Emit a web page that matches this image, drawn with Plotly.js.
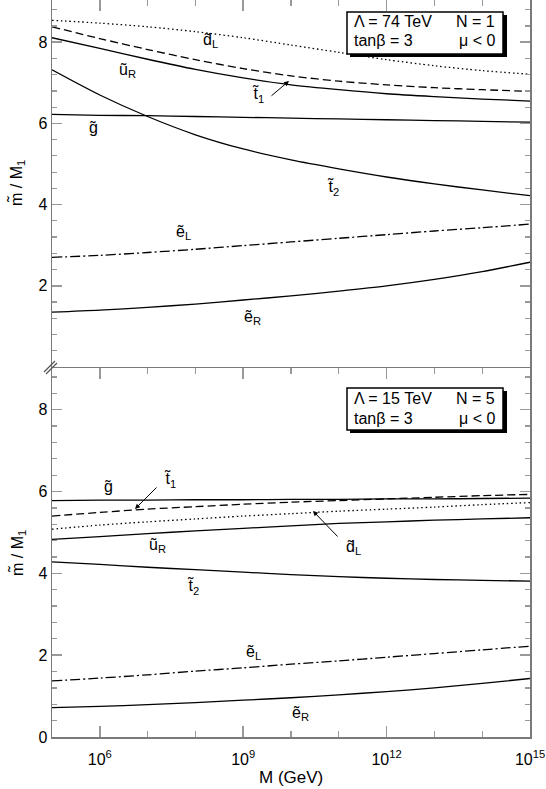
<!DOCTYPE html>
<html>
<head>
<meta charset="utf-8">
<script src="https://cdn.plot.ly/plotly-3.0.1.min.js"></script>
<style>
html,body{margin:0;padding:0;background:#fff;overflow:hidden;}
#chart{width:546px;height:789px;}
</style>
</head>
<body>
<div id="chart"></div>
<script>
// Messenger scale M (GeV)
const M_GeV = [1e5, 1e6, 1e7, 1e8, 1e9, 1e10, 1e11, 1e12, 1e13, 1e14, 1e15];

// Upper panel: Lambda = 74 TeV, N = 1
const top_dL = [8.54, 8.47, 8.38, 8.26, 8.11, 7.93, 7.75, 7.57, 7.42, 7.30, 7.21];
const top_t1 = [8.38, 8.09, 7.82, 7.57, 7.35, 7.17, 7.04, 6.95, 6.88, 6.83, 6.79];
const top_uR = [8.11, 7.85, 7.58, 7.33, 7.12, 6.95, 6.83, 6.73, 6.66, 6.60, 6.55];
const top_gl = [6.22, 6.20, 6.19, 6.17, 6.15, 6.13, 6.11, 6.09, 6.07, 6.05, 6.03];
const top_t2 = [7.32, 6.70, 6.17, 5.72, 5.37, 5.10, 4.88, 4.68, 4.51, 4.36, 4.22];
const top_eL = [2.70, 2.75, 2.82, 2.90, 2.99, 3.08, 3.17, 3.26, 3.35, 3.43, 3.52];
const top_eR = [1.35, 1.40, 1.47, 1.55, 1.65, 1.75, 1.87, 2.00, 2.16, 2.35, 2.58];

// Lower panel: Lambda = 15 TeV, N = 5
const bot_gl = [5.78, 5.79, 5.79, 5.80, 5.80, 5.81, 5.81, 5.82, 5.82, 5.83, 5.84];
const bot_t1 = [5.40, 5.49, 5.57, 5.63, 5.69, 5.74, 5.78, 5.82, 5.86, 5.90, 5.93];
const bot_dL = [5.08, 5.18, 5.26, 5.33, 5.40, 5.46, 5.52, 5.57, 5.62, 5.68, 5.73];
const bot_uR = [4.83, 4.90, 4.97, 5.04, 5.10, 5.16, 5.22, 5.26, 5.30, 5.33, 5.36];
const bot_t2 = [4.28, 4.22, 4.15, 4.09, 4.03, 3.97, 3.92, 3.88, 3.85, 3.83, 3.81];
const bot_eL = [1.37, 1.44, 1.52, 1.61, 1.69, 1.78, 1.86, 1.95, 2.04, 2.13, 2.22];
const bot_eR = [0.72, 0.75, 0.79, 0.84, 0.90, 0.96, 1.03, 1.11, 1.20, 1.31, 1.43];

const xTickVals = [1e6, 1e9, 1e12, 1e15];
const xTickText = ['10<sup>6</sup>', '10<sup>9</sup>', '10<sup>12</sup>', '10<sup>15</sup>'];
const xMinorVals = [1e5, 1e7, 1e8, 1e10, 1e11, 1e13, 1e14];

const FONT = 'Liberation Sans, Arial, Helvetica, sans-serif';
const SOLID = 'solid', DOT = '1.5px,2.8px', DASH = '8px,4px', DASHDOT = '10px,3px,2px,3px';

function tr(y, dash, top) {
  return {x: M_GeV, y: y, type: 'scatter', mode: 'lines', line: {color: '#000', width: 1.3, dash: dash, shape: 'spline', smoothing: 0.8},
    xaxis: top ? 'x2' : 'x', yaxis: top ? 'y2' : 'y', hoverinfo: 'skip', showlegend: false};
}

const data = [
  tr(top_dL, DOT, true), tr(top_t1, DASH, true), tr(top_uR, SOLID, true), tr(top_gl, SOLID, true),
  tr(top_t2, SOLID, true), tr(top_eL, DASHDOT, true), tr(top_eR, SOLID, true),
  tr(bot_gl, SOLID, false), tr(bot_t1, DASH, false), tr(bot_dL, DOT, false), tr(bot_uR, SOLID, false),
  tr(bot_t2, SOLID, false), tr(bot_eL, DASHDOT, false), tr(bot_eR, SOLID, false)
];

// plot area in pixels
const L = 52, R = 530, T = 0, B = 737;
const W = R - L, H = B - T;
const px = v => (v - L) / W;
const py = v => (B - v) / H;

const AX = '#7a7a7a', TK = '#999';
const yBase = {showline: true, linecolor: AX, linewidth: 1.5, mirror: 'ticks', ticks: 'inside', ticklen: 10, tickwidth: 1.5, tickcolor: TK,
  showgrid: false, zeroline: false, tickfont: {family: FONT, size: 16, color: '#000'},
  minor: {dtick: 0.4, tick0: 0, ticks: 'inside', ticklen: 5, tickwidth: 1.2, tickcolor: TK}};

function lab(text, x, y) {
  return {text: text, xref: 'paper', yref: 'paper', x: px(x), y: py(y), showarrow: false,
    xanchor: 'center', yanchor: 'middle', font: {family: FONT, size: 16, color: '#000'}};
}
function arrow(x0, y0, x1, y1) {
  return {text: '', xref: 'paper', yref: 'paper', x: px(x1), y: py(y1), axref: 'pixel', ayref: 'pixel',
    ax: x0 - x1, ay: y0 - y1, showarrow: true, arrowhead: 2, arrowsize: 1, arrowwidth: 1, arrowcolor: '#000', standoff: 0, startstandoff: 0};
}
function boxText(text, x, y, anchor) {
  return {text: text, xref: 'paper', yref: 'paper', x: px(x), y: py(y), showarrow: false,
    xanchor: anchor, yanchor: 'middle', font: {family: FONT, size: 16, color: '#000'}};
}
function rect(x0, y0, x1, y1, fill, lw) {
  return {type: 'rect', xref: 'paper', yref: 'paper', x0: px(x0), x1: px(x1), y0: py(y0), y1: py(y1),
    fillcolor: fill, line: {color: '#000', width: lw}, layer: 'above'};
}
function seg(x0, y0, x1, y1) {
  return {type: 'line', xref: 'paper', yref: 'paper', x0: px(x0), x1: px(x1), y0: py(y0), y1: py(y1),
    line: {color: '#555', width: 1.2}, layer: 'above'};
}

const annotations = [
  // upper panel labels
  lab('d\u0303<sub>L</sub>', 210, 41),
  lab('u\u0303<sub>R</sub>', 127, 70),
  lab('t\u0303<sub>1</sub>', 258, 95),
  arrow(270, 97, 289, 81),
  lab('g\u0303', 93, 127),
  lab('t\u0303<sub>2</sub>', 333, 188),
  lab('e\u0303<sub>L</sub>', 183, 232),
  lab('e\u0303<sub>R</sub>', 252, 317),
  // lower panel labels
  lab('g\u0303', 108, 486),
  lab('t\u0303<sub>1</sub>', 170, 479),
  arrow(158, 486, 135, 509),
  lab('u\u0303<sub>R</sub>', 157, 545),
  lab('d\u0303<sub>L</sub>', 353, 547),
  arrow(339, 538, 313, 511),
  lab('t\u0303<sub>2</sub>', 193, 586),
  lab('e\u0303<sub>L</sub>', 253, 652),
  lab('e\u0303<sub>R</sub>', 300, 713),
  // info boxes
  boxText('\u039B = 74 TeV', 352, 22, 'left'),
  boxText('N = 1', 497, 22, 'right'),
  boxText('tan\u03B2 = 3', 352, 41, 'left'),
  boxText('\u03BC < 0', 497, 41, 'right'),
  boxText('\u039B = 15 TeV', 352, 398, 'left'),
  boxText('N = 5', 497, 398, 'right'),
  boxText('tan\u03B2 = 3', 352, 418, 'left'),
  boxText('\u03BC < 0', 497, 418, 'right'),
  // axis titles
  {text: 'M (GeV)', xref: 'paper', yref: 'paper', x: px(291), y: py(777), showarrow: false, xanchor: 'center', yanchor: 'middle',
    font: {family: FONT, size: 17, color: '#000'}},
  {text: 'm\u0303 / M<sub>1</sub>', xref: 'paper', yref: 'paper', x: px(17), y: py(183), showarrow: false, xanchor: 'center', yanchor: 'middle',
    textangle: -90, font: {family: FONT, size: 16, color: '#000'}},
  {text: 'm\u0303 / M<sub>1</sub>', xref: 'paper', yref: 'paper', x: px(17), y: py(553), showarrow: false, xanchor: 'center', yanchor: 'middle',
    textangle: -90, font: {family: FONT, size: 16, color: '#000'}}
];

const shapes = [
  rect(350, 15, 507, 57, '#000', 0),
  rect(347, 12, 503, 54, '#fff', 1.5),
  rect(350, 391, 507, 433, '#000', 0),
  rect(347, 388, 503, 430, '#fff', 1.5),
  // axis break marks
  seg(44, 372, 55, 361),
  seg(46, 374, 57, 363)
];

const layout = {
  width: 546, height: 789,
  margin: {l: L, r: 546 - R, t: T, b: 789 - B, pad: 0},
  paper_bgcolor: '#fff', plot_bgcolor: 'rgba(0,0,0,0)',
  showlegend: false,
  font: {family: FONT, size: 16, color: '#000'},
  xaxis: {type: 'log', range: [5, 15], domain: [0, 1], anchor: 'y', showline: true, linecolor: AX, linewidth: 1.5, mirror: 'ticks',
    ticks: 'inside', ticklen: 11, tickwidth: 1.5, tickcolor: TK, tickmode: 'array', tickvals: xTickVals, ticktext: xTickText,
    ticklabelstandoff: 7,
    tickfont: {family: FONT, size: 16, color: '#000'}, showgrid: false, zeroline: false,
    minor: {tickmode: 'array', tickvals: xMinorVals, ticks: 'inside', ticklen: 6, tickwidth: 1.2, tickcolor: TK}},
  yaxis: Object.assign({}, yBase, {domain: [0, (B - 368) / H], range: [0, 9.02], anchor: 'x', tickmode: 'array', tickvals: [0, 2, 4, 6, 8]}),
  xaxis2: {type: 'log', range: [5, 15], domain: [0, 1], anchor: 'y2', side: 'top', showline: true, linecolor: AX, linewidth: 1.5, mirror: false,
    ticks: 'inside', ticklen: 11, tickwidth: 1.5, tickcolor: TK, tickmode: 'array', tickvals: xTickVals, showticklabels: false,
    showgrid: false, zeroline: false,
    minor: {tickmode: 'array', tickvals: xMinorVals, ticks: 'inside', ticklen: 6, tickwidth: 1.2, tickcolor: TK}},
  yaxis2: Object.assign({}, yBase, {domain: [(B - 367) / H, 1], range: [0, 367 / 40.6], anchor: 'x2', tickmode: 'array', tickvals: [2, 4, 6, 8]}),
  annotations: annotations,
  shapes: shapes
};

Plotly.newPlot('chart', data, layout, {staticPlot: true, displayModeBar: false});
</script>
</body>
</html>
